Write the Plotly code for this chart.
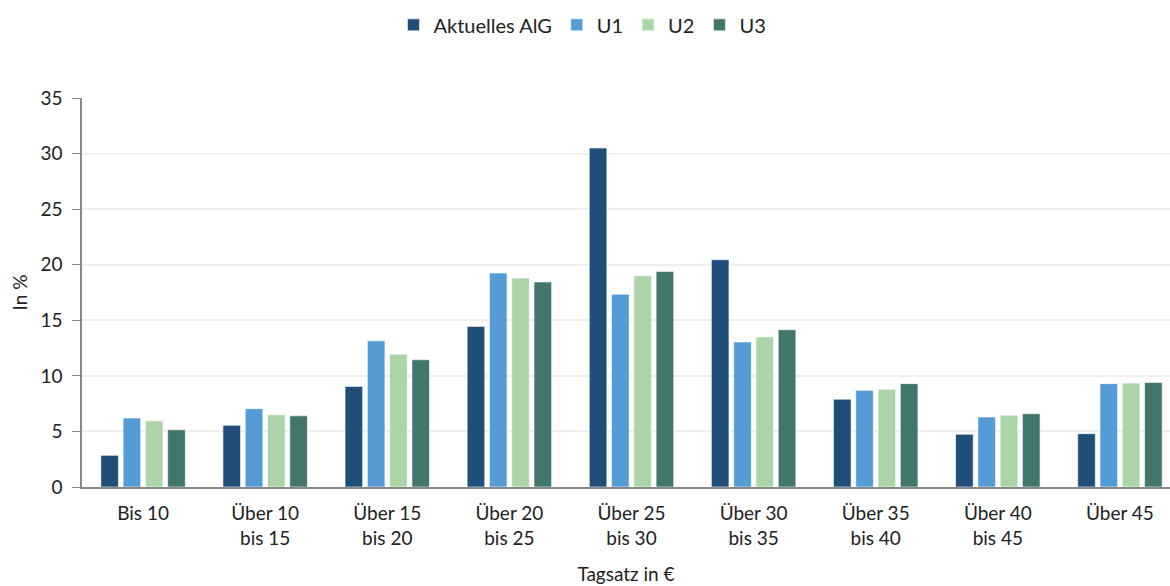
import plotly.graph_objects as go

categories = ["Bis 10", "Über 10<br>bis 15", "Über 15<br>bis 20", "Über 20<br>bis 25",
              "Über 25<br>bis 30", "Über 30<br>bis 35", "Über 35<br>bis 40",
              "Über 40<br>bis 45", "Über 45"]
aktuelles_aig = [2.85, 5.55, 9.05, 14.45, 30.5, 20.45, 7.9, 4.75, 4.8]
u1 = [6.2, 7.05, 13.15, 19.25, 17.35, 13.05, 8.7, 6.3, 9.3]
u2 = [5.95, 6.5, 11.95, 18.8, 19.0, 13.5, 8.8, 6.45, 9.35]
u3 = [5.15, 6.4, 11.45, 18.45, 19.4, 14.15, 9.3, 6.6, 9.4]

series = [
    ("Aktuelles AlG", aktuelles_aig, "#1F4E79"),
    ("U1", u1, "#559BD6"),
    ("U2", u2, "#ABD5A8"),
    ("U3", u3, "#41766C"),
]

FONT = "Lato, 'DejaVu Sans', sans-serif"

fig = go.Figure()
for name, vals, color in series:
    fig.add_trace(go.Bar(
        x=categories, y=vals, name=name,
        marker=dict(color=color, line=dict(color="rgba(255,255,255,0.6)", width=1)),
    ))

fig.update_layout(
    width=1170, height=586,
    margin=dict(l=82, r=0, t=98, b=99, autoexpand=False),
    paper_bgcolor="white", plot_bgcolor="white",
    barmode="group", bargap=0.27, bargroupgap=0.21,
    font=dict(family=FONT, size=19, color="#222222"),
    legend=dict(orientation="h", x=0.46, xanchor="center", y=1.188, yanchor="middle",
                font=dict(size=20), itemwidth=30, traceorder="normal"),
    xaxis=dict(
        range=[-0.5, 8.41],
        showline=True, linecolor="#888888", linewidth=2,
        ticks="", tickfont=dict(size=19), ticklabelstandoff=8,
        title=dict(text="Tagsatz in €", font=dict(size=19), standoff=20),
    ),
    yaxis=dict(
        range=[0, 35], tickvals=[0, 5, 10, 15, 20, 25, 30, 35],
        showline=True, linecolor="#888888", linewidth=1.5,
        ticks="outside", ticklen=8, tickcolor="#888888",
        showgrid=True, gridcolor="#EFEFEF", gridwidth=2,
        zeroline=False, tickfont=dict(size=19), ticklabelstandoff=6,
        title=dict(text="In %", font=dict(size=19), standoff=8),
    ),
)

fig.write_html("out.html")
